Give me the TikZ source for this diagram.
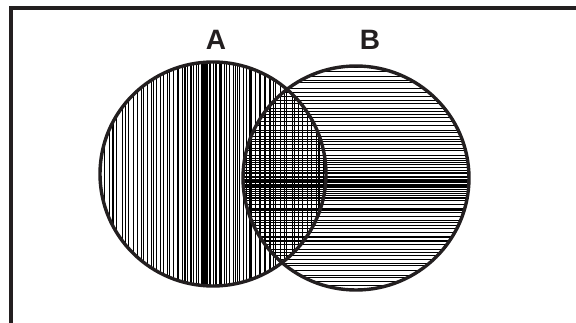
\documentclass[tikz,border=0pt]{standalone}
\usepackage{fontspec}
\setmainfont{Liberation Sans}
\definecolor{ink}{RGB}{35,31,32}
\begin{document}
\begin{tikzpicture}[x=1pt,y=-1pt,
  outline/.style={line width=3.4pt,draw=ink},
  hatch/.style={black},
  lbl/.style={font=\bfseries\fontsize{28}{28}\selectfont,inner sep=0pt,text=ink}]
\useasboundingbox (0,0) rectangle (576,323);
\pgfmathsetseed{11}
\coordinate (A) at (213,174);
\coordinate (B) at (356,178);
% frame
\draw[line width=3.4pt,ink] (11,323) -- (11,8) -- (576,8);
% circle A hatching (vertical)
\begin{scope}
  \clip (A) ellipse [x radius=113, y radius=112];
  \foreach \i in {0,...,80}{
    \pgfmathsetmacro\s{-1+2*\i/80}
    \pgfmathsetmacro\xx{207+120*\s*abs(\s)^0.45+2.5*rnd}
    \pgfmathsetmacro\w{0.4+1.0*rnd}
    \draw[hatch,line width=\w pt] (\xx,50) -- (\xx,300);
  }
  \fill[black] (202,50) rectangle (206,300);
\end{scope}
% circle B hatching (horizontal)
\begin{scope}
  \clip (B) ellipse [x radius=113, y radius=112];
  \foreach \i in {0,...,80}{
    \pgfmathsetmacro\s{-1+2*\i/80}
    \pgfmathsetmacro\yy{184+118*\s*abs(\s)^0.45+2.5*rnd}
    \pgfmathsetmacro\w{0.4+1.0*rnd}
    \draw[hatch,line width=\w pt] (230,\yy) -- (480,\yy);
  }
\end{scope}
\draw[outline] (A) ellipse [x radius=113, y radius=112];
\draw[outline] (B) ellipse [x radius=113, y radius=112];
\node[lbl] (la) at (216,40) {A};
\node[lbl] (lb) at (370,40) {B};
\end{tikzpicture}
\end{document}
